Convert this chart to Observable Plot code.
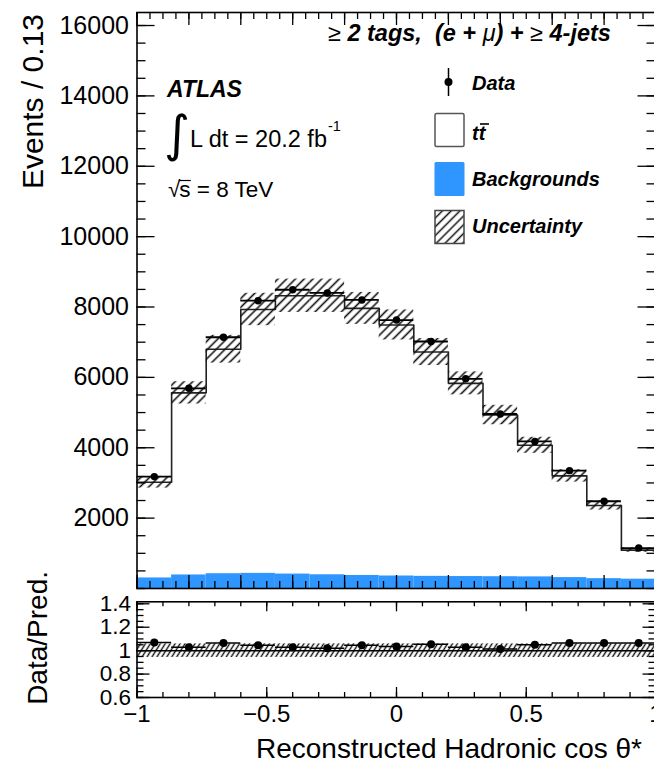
<!DOCTYPE html>
<html><head><meta charset="utf-8">
<script src="https://cdn.jsdelivr.net/npm/d3@7"></script>
<script src="https://cdn.jsdelivr.net/npm/@observablehq/plot@0.6"></script>
<style>
html,body{margin:0;padding:0;background:#fff;}
body{width:654px;height:764px;overflow:hidden;position:relative;font-family:"Liberation Sans",Arial,Helvetica,sans-serif;}
#top,#ratio,#overlay{position:absolute;left:0;}
#top{top:0}
#ratio{top:595px}
#overlay{top:0;pointer-events:none}
#top svg,#ratio svg{max-width:none !important;display:block}
#overlay text{font-family:"Liberation Sans",Arial,Helvetica,sans-serif;fill:#000;white-space:pre}
</style></head><body>
<div id="top"></div>
<div id="ratio"></div>
<svg id="overlay" width="654" height="764"></svg>
<script>
// ---------------- data ----------------
const binEdges = d3.range(16).map(i => -1 + i * 2 / 15);         // 15 bins of width 0.133
const dataEvents   = [3180, 5690, 7140, 8180, 8490, 8400, 8200, 7630, 7020, 5960, 4960, 4180, 3350, 2480, 1150];
const prediction   = [3020, 5560, 6800, 7930, 8320, 8320, 7960, 7490, 6720, 5830, 4930, 4070, 3200, 2360, 1090];
const backgrounds  = [300, 385, 420, 430, 410, 390, 370, 355, 345, 340, 335, 330, 310, 280, 265];
const relUncert    = [0.055, 0.057, 0.058, 0.058, 0.057, 0.057, 0.057, 0.057, 0.057, 0.056, 0.056, 0.056, 0.055, 0.055, 0.055];
const ratioValues  = [1.07, 1.03, 1.065, 1.045, 1.03, 1.02, 1.045, 1.035, 1.055, 1.03, 1.015, 1.05, 1.065, 1.065, 1.065];
const ratioUncert  = [0.058, 0.058, 0.058, 0.058, 0.058, 0.058, 0.058, 0.058, 0.058, 0.058, 0.058, 0.058, 0.058, 0.058, 0.058];

const yTicksTop   = [2000, 4000, 6000, 8000, 10000, 12000, 14000, 16000];
const ratioTicks  = [0.6, 0.8, 1, 1.2, 1.4];
const xTickLabels = [-1, -0.5, 0, 0.5, 1];

const bins = binEdges.slice(0, -1).map((lo, i) => ({
  lo, hi: binEdges[i + 1], c: (lo + binEdges[i + 1]) / 2,
  data: dataEvents[i], pred: prediction[i], bkg: backgrounds[i],
  lowU: prediction[i] * (1 - relUncert[i]), highU: prediction[i] * (1 + relUncert[i]),
  ratio: ratioValues[i], rLo: 1 - ratioUncert[i], rHi: 1 + ratioUncert[i]
}));
const stepPts = bins.map(b => ({x: b.lo, y: b.pred})).concat([{x: 1, y: prediction[prediction.length - 1]}]);

// ---------------- styling ----------------
const W = 680, X0 = 136.5, X1 = 655.5, IW = X1 - X0;
const TOP_H = 595, TOP_MT = 12, TOP_MB = 7, TOP_IH = TOP_H - TOP_MT - TOP_MB;
const R_H = 169, R_MT = 6.3, R_MB = 67, R_IH = R_H - R_MT - R_MB;
const FONT = '"Liberation Sans", Arial, Helvetica, sans-serif';
const BLUE = "#2f96ff";
const minus = d => d < 0 ? "\u2212" + Math.abs(d) : String(d);

const yMinorTop = d3.range(0, 16001, 500);
const xMajorTopPanel = d3.range(-1, 1.0001, 0.2);
const xMinorTopPanel = d3.range(-1, 1.0001, 0.05);
const xMinorRatio = d3.range(-1, 1.0001, 0.1);
const yMinorRatio = d3.range(0.6, 1.4201, 0.05);

const T = {stroke: "black", strokeWidth: 1.3};
// inward ticks on all four sides of a frame
function frameTicks(yMaj, yMin, xMaj, xMin, iw, ih, yl, ys, xl, xs) {
  const id = d => d;
  return [
    Plot.tickY(yMaj, {y: id, insetRight: iw - yl, ...T}),
    Plot.tickY(yMin, {y: id, insetRight: iw - ys, ...T}),
    Plot.tickY(yMaj, {y: id, insetLeft: iw - yl, ...T}),
    Plot.tickY(yMin, {y: id, insetLeft: iw - ys, ...T}),
    Plot.tickX(xMaj, {x: id, insetTop: ih - xl, ...T}),
    Plot.tickX(xMin, {x: id, insetTop: ih - xs, ...T}),
    Plot.tickX(xMaj, {x: id, insetBottom: ih - xl, ...T}),
    Plot.tickX(xMin, {x: id, insetBottom: ih - xs, ...T})
  ];
}

function addPattern(svg, id, size, angle, sw) {
  const ns = "http://www.w3.org/2000/svg";
  const defs = document.createElementNS(ns, "defs");
  defs.innerHTML = `<pattern id="${id}" patternUnits="userSpaceOnUse" width="${size}" height="${size}" patternTransform="rotate(${angle})">
     <line x1="${size/2}" y1="-1" x2="${size/2}" y2="${size+1}" stroke="#111" stroke-width="${sw}"/></pattern>`;
  svg.insertBefore(defs, svg.firstChild);
}

// ---------------- top panel ----------------
const topPlot = Plot.plot({
  width: W, height: TOP_H,
  marginLeft: X0, marginRight: W - X1, marginTop: TOP_MT, marginBottom: TOP_MB,
  x: {domain: [-1, 1], label: null, axis: null},
  y: {domain: [0, 16370], label: null},
  style: {fontFamily: FONT, fontSize: "25px", background: "white", color: "black"},
  marks: [
    Plot.rectY(bins, {x1: "lo", x2: "hi", y: "bkg", fill: BLUE}),
    Plot.line(stepPts, {x: "x", y: "y", curve: "step-after", stroke: "#222", strokeWidth: 1.6}),
    Plot.rect(bins, {x1: "lo", x2: "hi", y1: "lowU", y2: "highU", fill: "url(#hatchTop)"}),
    Plot.ruleY(bins, {y: "data", x1: "lo", x2: "hi", stroke: "black", strokeWidth: 1.8}),
    Plot.dot(bins, {x: "c", y: "data", r: 3.7, fill: "black"}),
    ...frameTicks(yTicksTop, yMinorTop, xMajorTopPanel, xMinorTopPanel, IW, TOP_IH, 18, 9, 13, 7),
    Plot.axisY(yTicksTop, {anchor: "left", tickSize: 0, tickPadding: 8, tickFormat: d => String(d), fontSize: 25, label: null, color: "black"}),
    Plot.frame({stroke: "black", strokeWidth: 1.6})
  ]
});
addPattern(topPlot, "hatchTop", 6.2, 45, 1.6);
document.getElementById("top").appendChild(topPlot);

// ---------------- ratio panel ----------------
const ratioPlot = Plot.plot({
  width: W, height: R_H,
  marginLeft: X0, marginRight: W - X1, marginTop: R_MT, marginBottom: R_MB,
  x: {domain: [-1, 1], label: null},
  y: {domain: [0.6, 1.417], label: null},
  style: {fontFamily: FONT, fontSize: "23px", background: "white", color: "black", overflow: "visible"},
  marks: [
    Plot.rect(bins, {x1: "lo", x2: "hi", y1: "rLo", y2: "rHi", fill: "url(#hatchRatio)"}),
    Plot.ruleY([1], {stroke: "black", strokeWidth: 1.5}),
    Plot.ruleY(bins, {y: "ratio", x1: "lo", x2: "hi", stroke: "black", strokeWidth: 1.5}),
    Plot.dot(bins, {x: "c", y: "ratio", r: 4, fill: "black"}),
    ...frameTicks(ratioTicks, yMinorRatio, xTickLabels, xMinorRatio, IW, R_IH, 13, 7, 10, 5),
    Plot.axisY(ratioTicks, {anchor: "left", tickSize: 0, tickPadding: 6, tickFormat: d => String(d), fontSize: 22.5, label: null, color: "black"}),
    Plot.axisX(xTickLabels, {anchor: "bottom", tickSize: 0, tickPadding: 7, tickFormat: minus, fontSize: 24, label: null, color: "black"}),
    Plot.frame({stroke: "black", strokeWidth: 1.6})
  ]
});
addPattern(ratioPlot, "hatchRatio", 4.2, 32, 1.4);
document.getElementById("ratio").appendChild(ratioPlot);

// ---------------- annotations, titles and legend ----------------
const ov = document.getElementById("overlay");
addPattern(ov, "hatchLegend", 6.2, 45, 1.5);
function el(tag, attrs, text) {
  const e = document.createElementNS("http://www.w3.org/2000/svg", tag);
  for (const k in attrs) e.setAttribute(k, attrs[k]);
  if (text != null) e.textContent = text;
  ov.appendChild(e);
  return e;
}
const BI = {"font-weight": "bold", "font-style": "italic"};

// axis titles
el("text", {transform: "translate(43,14) rotate(-90)", "text-anchor": "end", "font-size": 30}, "Events / 0.13");
el("text", {transform: "translate(47,571) rotate(-90)", "text-anchor": "end", "font-size": 28}, "Data/Pred.");
el("text", {x: 256, y: 758, "font-size": 28}, "Reconstructed Hadronic cos \u03b8*");

// ATLAS block
el("text", {x: 167, y: 97, "font-size": 23, ...BI}, "ATLAS");
el("text", {x: 164, y: 151, "font-size": 50, style: "font-family:'DejaVu Sans'"}, "\u222b");
const lum = el("text", {x: 190, y: 147, "font-size": 23.5}, "L dt = 20.2 fb");
el("text", {x: 190 + lum.getComputedTextLength() + 1, y: 131, "font-size": 14.5}, "-1");
const sq = el("text", {x: 168, y: 197, "font-size": 22.5}, "\u221a");
const sqW = sq.getComputedTextLength();
el("text", {x: 168 + sqW - 1, y: 197, "font-size": 22.5}, "s = 8 TeV");
el("line", {x1: 168 + sqW - 1.5, x2: 168 + sqW + 10.5, y1: 180.5, y2: 180.5, stroke: "black", "stroke-width": 1.2});

// selection label
const sel = el("text", {x: 328, y: 41, "font-size": 23.5, ...BI});
sel.innerHTML = '<tspan font-weight="normal" font-style="normal">\u2265</tspan> 2 tags,  (e + <tspan font-weight="normal">\u03bc</tspan>) + <tspan font-weight="normal" font-style="normal">\u2265</tspan> 4-jets';

// legend
el("line", {x1: 448.5, x2: 448.5, y1: 68, y2: 96, stroke: "black", "stroke-width": 1.5});
el("circle", {cx: 448.5, cy: 82, r: 4, fill: "black"});
el("text", {x: 472, y: 90, "font-size": 20, ...BI}, "Data");
el("rect", {x: 435, y: 113.5, width: 29, height: 33, rx: 1.5, fill: "white", stroke: "#555", "stroke-width": 1.5});
el("text", {x: 472, y: 140, "font-size": 20, ...BI}, "tt");
el("line", {x1: 480, x2: 489, y1: 124, y2: 124, stroke: "black", "stroke-width": 1.6});
el("rect", {x: 434.5, y: 162, width: 30, height: 34, rx: 1.5, fill: BLUE});
el("text", {x: 472, y: 186, "font-size": 20, ...BI}, "Backgrounds");
el("rect", {x: 435, y: 210.5, width: 29, height: 33, fill: "url(#hatchLegend)", stroke: "#444", "stroke-width": 1.5});
el("text", {x: 472, y: 233, "font-size": 20, ...BI}, "Uncertainty");
</script>
</body></html>
